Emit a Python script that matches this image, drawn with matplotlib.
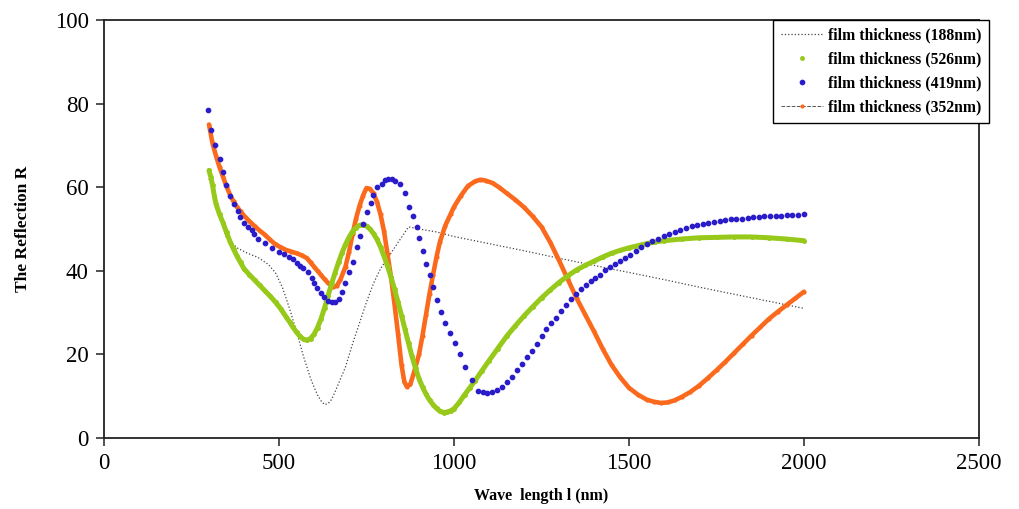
import numpy as np
import matplotlib.pyplot as plt

# ---- data (wavelength nm, reflection R) ----
wl_188 = [300, 310, 330, 350, 380, 410, 440, 470, 490, 510, 530, 550, 570, 590, 600,
          610, 620, 630, 640, 650, 660, 670, 690, 710, 730, 750, 770, 790, 810, 830,
          850, 870, 900, 950, 1000, 1100, 1200, 1300, 1400, 1500, 1600, 1700, 1800,
          1900, 2000]
R_188 = [62, 60, 53, 48, 45.5, 44.2, 43.2, 41.5, 39.5, 36, 31, 25.5, 19.5, 14.3, 12.2,
         10.3, 8.9, 8, 8.2, 9.2, 11, 13, 17, 22.5, 27.5, 32.5, 37, 40.5, 43, 45.5,
         48, 50.5, 50, 49.3, 48.2, 46.5, 44.8, 43, 41.3, 39.6, 37.9, 36.1, 34.4,
         32.7, 31]

wl_526 = [300, 305, 310, 315, 320, 330, 340, 350, 360, 370, 380, 390, 400, 415, 430,
          445, 460, 475, 490, 505, 520, 530, 540, 550, 560, 570, 580, 590, 600, 610,
          620, 630, 640, 650, 660, 670, 680, 690, 700, 710, 720, 730, 740, 750, 760,
          770, 780, 790, 800, 810, 820, 830, 840, 850, 860, 870, 880, 890, 900, 910,
          920, 930, 940, 950, 960, 970, 980, 990, 1000, 1015, 1030, 1045, 1060, 1080,
          1100, 1125, 1150, 1175, 1200, 1225, 1250, 1275, 1300, 1325, 1350, 1375,
          1400, 1425, 1450, 1475, 1500, 1525, 1550, 1575, 1600, 1650, 1700, 1750,
          1800, 1850, 1900, 1950, 2000]
R_526 = [64, 62.5, 60.5, 58, 56, 53.5, 51.5, 49.2, 47, 45.2, 43.5, 42, 40.5, 39.1, 37.8,
         36.5, 35.2, 33.9, 32.5, 30.9, 29, 27.8, 26.5, 25.3, 24.3, 23.6, 23.4, 23.8, 24.8, 26.4,
         28.5, 31.1, 34, 36.8, 39.5, 42, 44.3, 46.3, 48, 49.4, 50.3, 50.9, 51, 50.7, 50,
         48.9, 47.5, 45.7, 43.5, 41.1, 38.5, 35.6, 32.5, 29.3, 26, 22.7, 19.5, 16.7, 14.2, 12.2,
         10.5, 9.1, 8, 7.1, 6.4, 6.1, 6.2, 6.5, 7, 8.5, 10.3, 12, 13.7, 16.1,
         18.5, 21.4, 24.3, 26.8, 29.2, 31.4, 33.5, 35.4, 37.2, 38.8, 40.2, 41.3,
         42.3, 43.3, 44.2, 44.9, 45.5, 46, 46.5, 46.9, 47.2, 47.6, 47.9, 48,
         48.1, 48.1, 47.9, 47.6, 47.2]

wl_419 = [297, 306, 318, 331, 340, 349, 360, 372, 383, 389, 400, 412, 423, 429, 440,
          460, 480, 500, 515, 529, 540, 551, 560, 569, 583, 594, 600, 609, 620, 629,
          640, 651, 660, 671, 680, 689, 700, 711, 723, 731, 740, 751, 763, 769, 780,
          794, 803, 811, 823, 831, 846, 860, 871, 883, 894, 900, 911, 920, 931, 940,
          951, 963, 974, 989, 1003, 1017, 1031, 1051, 1069, 1082, 1094, 1108, 1123,
          1137, 1151, 1165, 1180, 1194, 1208, 1222, 1236, 1250, 1264, 1278, 1292,
          1306, 1320, 1334, 1348, 1362, 1376, 1390, 1404, 1418, 1432, 1446, 1460,
          1474, 1488, 1503, 1519, 1535, 1551, 1567, 1583, 1599, 1615, 1631, 1647,
          1663, 1679, 1695, 1711, 1727, 1743, 1759, 1775, 1791, 1807, 1823, 1839,
          1855, 1871, 1887, 1903, 1919, 1935, 1951, 1967, 1983, 2000]
R_419 = [78.5, 73.7, 70, 66.7, 63.6, 60.5, 58, 56, 54.3, 52.9, 51.4, 50.4, 49.8, 48.8, 47.6,
         46.7, 45.5, 44.5, 43.9, 43.3, 42.8, 41.9, 41.1, 40.7, 39.7, 38.3, 37.1, 35.9, 34.7, 33.7,
         32.8, 32.5, 32.5, 33.3, 34.9, 37.1, 39.7, 42.1, 45.7, 48.3, 51.2, 54, 56.2, 58.1, 60,
         60.8, 61.7, 62, 62, 61.5, 60.8, 58.6, 55.3, 53.1, 50.5, 47.8, 44.7, 41.6, 39, 36.1,
         33, 30.1, 27.5, 25.1, 22.7, 20.1, 17, 13.9, 11.2, 10.9, 10.8, 11.0, 11.5,
         12.3, 13.4, 14.7, 16.3, 17.8, 19.3, 20.9, 22.6, 24.5, 26.0, 27.5, 28.8,
         30.3, 31.8, 33.2, 34.5, 35.6, 36.6, 37.5, 38.3, 39.1, 40.1, 41.0, 41.6,
         42.3, 43.0, 43.8, 44.7, 45.6, 46.4, 47.1, 47.7, 48.3, 48.8, 49.3, 49.8,
         50.2, 50.6, 50.9, 51.2, 51.5, 51.7, 51.9, 52.1, 52.3, 52.4, 52.5, 52.6,
         52.8, 52.9, 53.0, 53.0, 53.1, 53.1, 53.3, 53.3, 53.4, 53.5]

wl_352 = [300, 310, 320, 330, 340, 350, 360, 370, 380, 390, 400, 415, 430, 445, 460,
          475, 490, 505, 520, 535, 550, 565, 580, 590, 600, 610, 620, 630, 640, 655,
          665, 675, 690, 700, 710, 720, 730, 740, 750, 760, 770, 780, 790, 800, 810,
          820, 830, 840, 850, 858, 865, 875, 885, 900, 910, 920, 930, 940, 950, 960,
          975, 990, 1000, 1020, 1040, 1060, 1075, 1090, 1110, 1130, 1150, 1175, 1200,
          1225, 1250, 1275, 1300, 1325, 1350, 1375, 1400, 1425, 1450, 1475, 1500,
          1525, 1550, 1570, 1590, 1610, 1630, 1650, 1675, 1700, 1725, 1750, 1775,
          1800, 1825, 1850, 1875, 1900, 1925, 1950, 1975, 2000]
R_352 = [75, 70.5, 67.5, 64.8, 62.5, 60.2, 58.2, 56.6, 55.3, 54.2, 53.2, 51.9, 50.7, 49.6, 48.6,
         47.4, 46.3, 45.6, 45, 44.6, 44.2, 43.7, 43, 42, 41, 40, 39, 38, 37.1, 36.1,
         36.4, 37.8, 41, 44.5, 48.7, 52.5, 55.5, 58, 59.8, 59.6, 58.5, 56.5, 53.5, 49.5, 44,
         38.5, 32, 25, 17.5, 13.5, 12.3, 12.8, 15.5, 20, 24.5, 29.5, 34.5, 39, 43.3, 47,
         50.8, 53.5, 55.3, 58, 60.3, 61.4, 61.8, 61.6, 61, 59.9, 58.6, 57, 55.2,
         53, 50.5, 46.8, 42.5, 38, 33.5, 29.5, 25.5, 21.3, 17.5, 14.5, 12,
         10.4, 9.2, 8.7, 8.4, 8.5, 9, 9.8, 11, 12.5, 14.3, 16.2, 18.2,
         20.3, 22.4, 24.5, 26.5, 28.5, 30.2, 31.8, 33.4, 35]

labels = ['film thickness (188nm)', 'film thickness (526nm)',
          'film thickness (419nm)', 'film thickness (352nm)']

c_green = '#97c91a'
c_blue = '#2a1cc8'
c_orange = '#fb6a1c'

fig = plt.figure(figsize=(10.19, 5.09), dpi=100)
ax = fig.add_axes([104 / 1019, 71 / 509, 875 / 1019, 418 / 509])

# 188 nm: thin dotted line
ax.plot(wl_188, R_188, ls=':', color='#444444', lw=0.9, label=labels[0], zorder=2)

# 352 nm: dense orange markers -> thick orange band; legend entry is dashed line with orange dot
ax.plot(wl_352, R_352, ls='--', color='#555555', lw=0.7, marker='.', ms=4,
        mfc=c_orange, mec=c_orange, label=labels[3], zorder=2.5)
ax.plot(wl_352, R_352, color=c_orange, lw=3.3, solid_capstyle='round',
        solid_joinstyle='round', zorder=3)

# 526 nm: dense green markers
ax.plot(wl_526, R_526, color=c_green, lw=3.6, solid_capstyle='round',
        solid_joinstyle='round', zorder=4)
ax.plot(wl_526, R_526, ls='none', marker='.', ms=5, color=c_green, label=labels[1], zorder=4)

# 419 nm: separate blue dots
ax.plot(wl_419, R_419, ls='none', marker='o', ms=3.1, color=c_blue, mec=c_blue,
        label=labels[2], zorder=5)

ax.set_xlim(0, 2500)
ax.set_ylim(0, 100)
ax.set_xticks([0, 500, 1000, 1500, 2000, 2500])
ax.set_yticks([0, 20, 40, 60, 80, 100])

serif = 'Liberation Serif'
for lab in ax.get_xticklabels() + ax.get_yticklabels():
    lab.set_family(serif)
    lab.set_fontsize(16.5)
ax.tick_params(direction='out', length=6, width=1.1, color='#222222', pad=5)
for sp in ax.spines.values():
    sp.set_linewidth(1.3)
    sp.set_color('#222222')

ax.set_xlabel('Wave  length l (nm)', family=serif, fontweight='bold', fontsize=11.5, labelpad=10)
ax.set_ylabel('The Reflection R', family=serif, fontweight='bold', fontsize=12.5, labelpad=17)

h, l = ax.get_legend_handles_labels()
hd = dict(zip(l, h))
leg = ax.legend([hd[s] for s in labels], labels, loc='upper right',
                bbox_to_anchor=(989 / 1019, 489 / 509), bbox_transform=fig.transFigure,
                borderaxespad=0, frameon=True, fancybox=False, framealpha=1,
                edgecolor='black', handlelength=2.7, handletextpad=0.3,
                labelspacing=0.5, borderpad=0.5,
                prop={'family': serif, 'weight': 'bold', 'size': 11.3})
leg.get_frame().set_linewidth(1.0)
leg.set_zorder(10)

fig.savefig('out.png', dpi=100)
